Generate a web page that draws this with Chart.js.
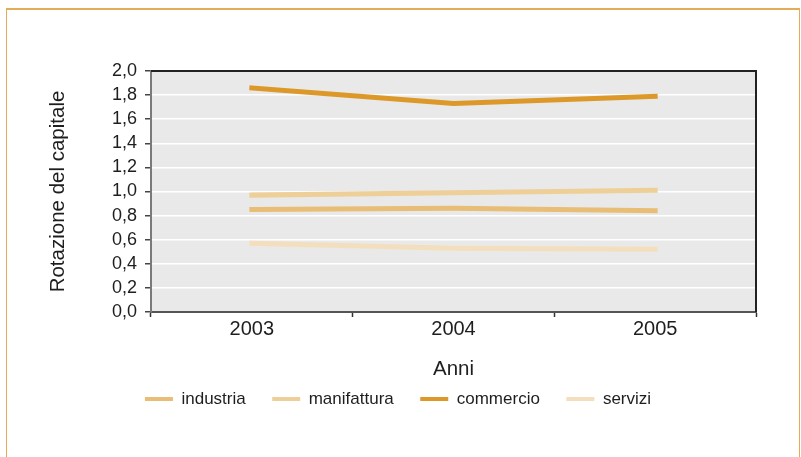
<!DOCTYPE html>
<html>
<head>
<meta charset="utf-8">
<script src="https://cdn.jsdelivr.net/npm/chart.js@4/dist/chart.umd.min.js"></script>
<style>
  html, body { margin: 0; padding: 0; background: #fff; }
  #wrap { width: 801px; height: 457px; position: relative; }
</style>
</head>
<body>
<div id="wrap"><canvas id="c" width="801" height="457"></canvas></div>
<script>
// Anni e rotazione del capitale per settore
const years = ['2003', '2004', '2005'];
const industria = [0.85, 0.86, 0.84];
const manifattura = [0.97, 0.99, 1.01];
const commercio = [1.86, 1.73, 1.79];
const servizi = [0.57, 0.53, 0.52];

const FONT = "'Liberation Sans', Arial, sans-serif";
const TEXT = '#1e1e1e';

// Cornice esterna e sfondo dell'area del grafico
const framePlugin = {
  id: 'frame',
  beforeDraw(chart) {
    const { ctx, chartArea: a, width, height } = chart;
    ctx.save();
    ctx.fillStyle = '#ffffff';
    ctx.fillRect(0, 0, width, height);
    ctx.fillStyle = '#e9e9e9';
    ctx.fillRect(a.left, a.top, a.right - a.left, a.bottom - a.top);
    ctx.strokeStyle = '#e4ac58';
    ctx.lineWidth = 2;
    ctx.beginPath();
    ctx.moveTo(6, 9); ctx.lineTo(800, 9);
    ctx.stroke();
    ctx.lineWidth = 1;
    ctx.beginPath();
    ctx.moveTo(6.5, 8); ctx.lineTo(6.5, height);
    ctx.moveTo(799.5, 8); ctx.lineTo(799.5, height);
    ctx.stroke();
    ctx.restore();
  },
  afterDraw(chart) {
    const { ctx, chartArea: a } = chart;
    ctx.save();
    ctx.strokeStyle = '#222';
    ctx.lineWidth = 2;
    ctx.beginPath();
    ctx.moveTo(a.left, a.top);
    ctx.lineTo(a.right, a.top);
    ctx.lineTo(a.right, a.bottom);
    ctx.stroke();
    ctx.restore();
  }
};

function series(label, data, color) {
  return {
    label, data,
    borderColor: color,
    backgroundColor: color,
    borderWidth: 5,
    borderCapStyle: 'square',
    pointRadius: 0,
    pointHoverRadius: 0,
    tension: 0
  };
}

new Chart(document.getElementById('c'), {
  type: 'line',
  data: {
    labels: years,
    datasets: [
      series('industria', industria, '#e8bd75'),
      series('manifattura', manifattura, '#eecf98'),
      series('commercio', commercio, '#dc992a'),
      series('servizi', servizi, '#f3dfbd')
    ]
  },
  options: {
    responsive: false,
    animation: false,
    layout: { padding: { left: 40, right: 45, top: 71, bottom: 39.5 } },
    plugins: {
      tooltip: { enabled: false },
      legend: {
        position: 'bottom',
        labels: {
          font: { family: FONT, size: 17 },
          color: TEXT,
          boxWidth: 28,
          boxHeight: 4,
          padding: 26.5,
          generateLabels(chart) {
            return Chart.defaults.plugins.legend.labels.generateLabels(chart).map(l => {
              l.lineWidth = 0;
              l.strokeStyle = 'rgba(0,0,0,0)';
              return l;
            });
          }
        }
      }
    },
    scales: {
      x: {
        offset: true,
        afterFit(scale) { scale.height = 52; },
        grid: {
          offset: true,
          drawOnChartArea: false,
          drawTicks: true,
          tickLength: 5,
          tickColor: '#333',
          tickWidth: 1.5
        },
        border: { color: '#555', width: 2 },
        ticks: { font: { family: FONT, size: 20 }, color: TEXT, padding: 0 },
        title: {
          display: true,
          text: 'Anni',
          font: { family: FONT, size: 20.5 },
          color: TEXT,
          padding: { top: 0, bottom: -17.8 }
        }
      },
      y: {
        min: 0,
        max: 2,
        afterFit(scale) { scale.width = 111; },
        grid: {
          color: '#ffffff',
          lineWidth: 1.5,
          drawTicks: true,
          tickLength: 6,
          tickColor: '#444',
          tickWidth: 1.5
        },
        border: { color: '#7a7a7a', width: 2 },
        ticks: {
          stepSize: 0.2,
          autoSkip: false,
          padding: 8,
          font: { family: FONT, size: 18 },
          color: TEXT,
          callback: v => Number(v).toFixed(1).replace('.', ',')
        },
        title: {
          display: true,
          text: 'Rotazione del capitale',
          font: { family: FONT, size: 20.5 },
          color: TEXT,
          padding: { top: 5.7, bottom: 0 }
        }
      }
    }
  },
  plugins: [framePlugin]
});
</script>
</body>
</html>
